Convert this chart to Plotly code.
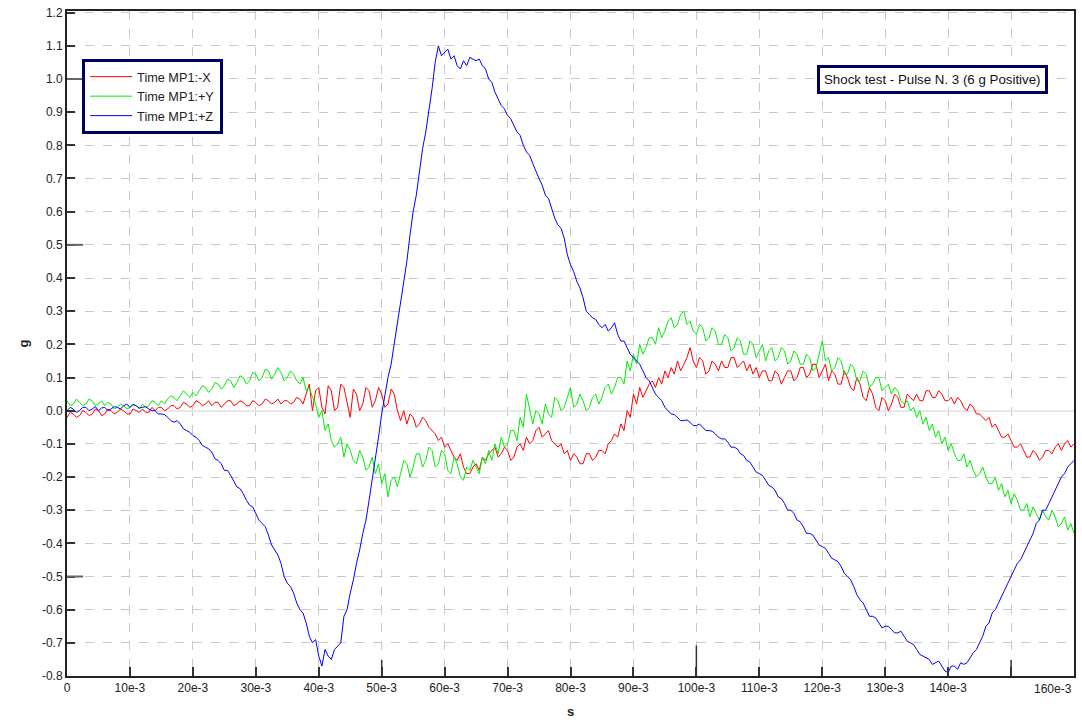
import plotly.graph_objects as go

# sample times in ms (0.5 ms step, 0 .. 160 ms)
t_ms = [i * 0.5 for i in range(321)]

red_x = [
    -0.02, -0.005, -0.01, -0.02, -0.015, 0.0, -0.005, -0.015, -0.01, 0.005,
    0.0, -0.015, -0.01, 0.005, 0.0, -0.01, -0.005, 0.005, 0.0, -0.01,
    -0.01, 0.005, 0.0, -0.005, 0.005, -0.005, -0.005, 0.01, 0.0, 0.01,
    0.01, 0.0, 0.005, 0.015, 0.015, 0.005, 0.01, 0.025, 0.02, 0.01,
    0.015, 0.03, 0.025, 0.015, 0.02, 0.03, 0.015, 0.025, 0.025, 0.01,
    0.02, 0.03, 0.03, 0.015, 0.02, 0.03, 0.025, 0.015, 0.015, 0.03,
    0.025, 0.015, 0.02, 0.035, 0.03, 0.02, 0.025, 0.035, 0.02, 0.03,
    0.03, 0.02, 0.025, 0.04, 0.035, 0.02, 0.05, 0.08, 0.0, 0.06,
    0.07, 0.01, -0.01, 0.075, 0.06, 0.0, 0.01, 0.08, 0.07, 0.02,
    -0.02, 0.065, 0.05, 0.0, 0.02, 0.07, 0.06, 0.01, 0.03, 0.07,
    0.05, 0.01, 0.02, 0.065, 0.05, 0.0, -0.03, 0.0, -0.04, -0.01,
    -0.02, -0.05, -0.04, -0.02, -0.03, -0.05, -0.06, -0.07, -0.09, -0.08,
    -0.11, -0.10, -0.12, -0.14, -0.15, -0.13, -0.17, -0.19, -0.19, -0.17,
    -0.16, -0.18, -0.14, -0.15, -0.13, -0.12, -0.11, -0.14, -0.13, -0.11,
    -0.12, -0.15, -0.14, -0.11, -0.10, -0.12, -0.08, -0.10, -0.09, -0.06,
    -0.05, -0.08, -0.07, -0.06, -0.09, -0.10, -0.11, -0.10, -0.13, -0.12,
    -0.15, -0.13, -0.14, -0.16, -0.16, -0.13, -0.13, -0.15, -0.14, -0.12,
    -0.12, -0.13, -0.10, -0.09, -0.07, -0.08, -0.04, -0.06, 0.0, -0.02,
    0.05, 0.02, 0.07, 0.04, 0.06, 0.08, 0.09, 0.07, 0.10, 0.08,
    0.12, 0.10, 0.13, 0.11, 0.15, 0.12, 0.14, 0.16, 0.19, 0.15,
    0.13, 0.16, 0.15, 0.11, 0.12, 0.15, 0.14, 0.12, 0.15, 0.13,
    0.13, 0.16, 0.16, 0.13, 0.14, 0.15, 0.12, 0.14, 0.11, 0.13,
    0.10, 0.12, 0.12, 0.09, 0.09, 0.12, 0.11, 0.08, 0.10, 0.12,
    0.12, 0.09, 0.10, 0.13, 0.13, 0.10, 0.11, 0.14, 0.14, 0.10,
    0.12, 0.14, 0.09, 0.12, 0.11, 0.08, 0.08, 0.12, 0.10, 0.07,
    0.06, 0.10, 0.08, 0.04, 0.03, 0.07, 0.05, 0.01, 0.0, 0.04,
    0.03, 0.0, 0.02, 0.05, 0.04, 0.01, 0.01, 0.05, 0.04, 0.03,
    0.05, 0.03, 0.03, 0.06, 0.06, 0.04, 0.04, 0.06, 0.05, 0.03,
    0.03, 0.04, 0.02, 0.04, 0.03, 0.01, 0.0, 0.02, 0.01, -0.01,
    -0.01, -0.02, -0.03, -0.02, -0.05, -0.04, -0.06, -0.08, -0.08, -0.07,
    -0.09, -0.11, -0.11, -0.10, -0.12, -0.14, -0.14, -0.12, -0.13, -0.15,
    -0.14, -0.12, -0.12, -0.13, -0.11, -0.10, -0.12, -0.10, -0.09, -0.11,
    -0.10]

green_y = [
    0.03, 0.015, 0.02, 0.035, 0.025, 0.015, 0.02, 0.035, 0.03, 0.015,
    0.02, 0.03, 0.015, 0.025, 0.02, 0.005, 0.01, 0.02, 0.015, 0.005,
    0.01, 0.02, 0.015, 0.005, 0.02, 0.01, 0.015, 0.03, 0.025, 0.015,
    0.03, 0.02, 0.035, 0.045, 0.04, 0.03, 0.045, 0.06, 0.05, 0.04,
    0.055, 0.045, 0.06, 0.075, 0.07, 0.055, 0.065, 0.085, 0.08, 0.065,
    0.075, 0.095, 0.09, 0.07, 0.085, 0.105, 0.10, 0.08, 0.09, 0.115,
    0.11, 0.09, 0.10, 0.125, 0.12, 0.095, 0.11, 0.13, 0.115, 0.09,
    0.10, 0.12, 0.11, 0.09, 0.08, 0.10, 0.06, 0.07, 0.04, 0.02,
    -0.02, 0.0, -0.06, -0.04, -0.09, -0.11, -0.10, -0.08, -0.14, -0.10,
    -0.12, -0.15, -0.16, -0.12, -0.14, -0.18, -0.17, -0.14, -0.19, -0.16,
    -0.22, -0.19, -0.26, -0.21, -0.20, -0.23, -0.19, -0.15, -0.16, -0.20,
    -0.17, -0.13, -0.13, -0.17, -0.15, -0.11, -0.12, -0.17, -0.16, -0.12,
    -0.13, -0.18, -0.19, -0.14, -0.16, -0.20, -0.21, -0.17, -0.18, -0.15,
    -0.17, -0.19, -0.14, -0.16, -0.12, -0.15, -0.10, -0.13, -0.08, -0.11,
    -0.10, -0.06, -0.06, -0.09, -0.02, -0.05, 0.05, 0.0, -0.04, 0.0,
    -0.01, -0.04, 0.02, -0.01, -0.02, 0.04, 0.03, 0.0, 0.01, 0.04,
    0.07, 0.01, 0.02, 0.05, 0.03, 0.0, 0.01, 0.04, 0.05, 0.02,
    0.04, 0.07, 0.08, 0.05, 0.07, 0.10, 0.10, 0.08, 0.15, 0.12,
    0.17, 0.14, 0.20, 0.17, 0.19, 0.22, 0.22, 0.20, 0.25, 0.22,
    0.24, 0.27, 0.28, 0.25, 0.26, 0.29, 0.30, 0.26, 0.27, 0.24,
    0.23, 0.26, 0.25, 0.21, 0.22, 0.25, 0.24, 0.20, 0.20, 0.23,
    0.22, 0.18, 0.19, 0.22, 0.21, 0.17, 0.17, 0.21, 0.20, 0.16,
    0.18, 0.20, 0.15, 0.18, 0.19, 0.15, 0.16, 0.19, 0.18, 0.14,
    0.15, 0.18, 0.17, 0.14, 0.14, 0.17, 0.16, 0.12, 0.13, 0.17,
    0.21, 0.15, 0.16, 0.12, 0.13, 0.16, 0.15, 0.11, 0.11, 0.14,
    0.13, 0.09, 0.09, 0.12, 0.11, 0.07, 0.08, 0.10, 0.10, 0.06,
    0.07, 0.08, 0.05, 0.07, 0.06, 0.03, 0.02, 0.03, 0.0, 0.01,
    -0.02, 0.0, -0.04, -0.02, -0.06, -0.04, -0.08, -0.06, -0.10, -0.08,
    -0.12, -0.10, -0.13, -0.15, -0.15, -0.13, -0.17, -0.15, -0.18, -0.20,
    -0.19, -0.17, -0.20, -0.22, -0.22, -0.20, -0.24, -0.22, -0.26, -0.24,
    -0.28, -0.25, -0.27, -0.30, -0.30, -0.28, -0.32, -0.29, -0.31, -0.33,
    -0.30, -0.32, -0.33, -0.30, -0.32, -0.35, -0.34, -0.32, -0.36, -0.34,
    -0.37]

blue_z = [
    0.0, 0.01, 0.005, -0.005, 0.0, 0.01, 0.01, 0.0, 0.005, 0.012,
    0.0, 0.008, 0.01, 0.0, 0.005, 0.012, 0.01, 0.005, 0.015, 0.02,
    0.01, 0.018, 0.015, 0.008, 0.01, 0.012, 0.005, 0.0, 0.0, -0.01,
    -0.01, -0.012, -0.02, -0.03, -0.035, -0.03, -0.04, -0.055, -0.06, -0.065,
    -0.075, -0.08, -0.09, -0.105, -0.11, -0.115, -0.125, -0.145, -0.15, -0.16,
    -0.18, -0.18, -0.195, -0.215, -0.23, -0.235, -0.25, -0.27, -0.285, -0.29,
    -0.31, -0.33, -0.34, -0.35, -0.375, -0.405, -0.42, -0.435, -0.46, -0.50,
    -0.52, -0.53, -0.55, -0.58, -0.60, -0.61, -0.64, -0.68, -0.70, -0.69,
    -0.74, -0.77, -0.72, -0.74, -0.75, -0.72, -0.71, -0.70, -0.62, -0.60,
    -0.55, -0.51, -0.46, -0.42, -0.37, -0.33, -0.27, -0.21, -0.14, -0.08,
    -0.01, 0.05, 0.10, 0.14, 0.20, 0.27, 0.33, 0.38, 0.45, 0.53,
    0.60, 0.65, 0.72, 0.79, 0.84, 0.90, 0.97, 1.05, 1.10, 1.07,
    1.08, 1.09, 1.06, 1.07, 1.04, 1.03, 1.055, 1.04, 1.065, 1.06,
    1.055, 1.06, 1.04, 1.03, 1.00, 0.99, 0.96, 0.94, 0.92, 0.91,
    0.89, 0.88, 0.86, 0.84, 0.83, 0.80, 0.78, 0.77, 0.745, 0.72,
    0.70, 0.68, 0.65, 0.64, 0.61, 0.58, 0.56, 0.55, 0.52, 0.47,
    0.44, 0.42, 0.39, 0.37, 0.34, 0.30, 0.29, 0.28, 0.275, 0.26,
    0.25, 0.26, 0.24, 0.25, 0.265, 0.23, 0.21, 0.21, 0.19, 0.17,
    0.16, 0.15, 0.14, 0.12, 0.10, 0.09, 0.07, 0.05, 0.04, 0.03,
    0.01, 0.0, -0.01, -0.012, -0.02, -0.03, -0.03, -0.028, -0.035, -0.045,
    -0.045, -0.04, -0.05, -0.06, -0.06, -0.062, -0.07, -0.08, -0.085, -0.085,
    -0.095, -0.11, -0.11, -0.115, -0.13, -0.135, -0.15, -0.155, -0.17, -0.185,
    -0.19, -0.195, -0.21, -0.225, -0.23, -0.24, -0.26, -0.265, -0.28, -0.30,
    -0.30, -0.31, -0.33, -0.335, -0.35, -0.37, -0.37, -0.375, -0.39, -0.405,
    -0.41, -0.415, -0.43, -0.445, -0.45, -0.455, -0.47, -0.49, -0.50, -0.51,
    -0.53, -0.555, -0.57, -0.58, -0.60, -0.62, -0.62, -0.625, -0.64, -0.655,
    -0.65, -0.65, -0.66, -0.67, -0.67, -0.665, -0.68, -0.695, -0.70, -0.705,
    -0.72, -0.735, -0.74, -0.745, -0.75, -0.765, -0.76, -0.755, -0.77, -0.785,
    -0.79, -0.77, -0.77, -0.78, -0.76, -0.765, -0.76, -0.745, -0.73, -0.72,
    -0.70, -0.68, -0.65, -0.64, -0.61, -0.60, -0.58, -0.56, -0.54, -0.52,
    -0.50, -0.48, -0.46, -0.45, -0.43, -0.41, -0.39, -0.37, -0.34, -0.33,
    -0.30, -0.30, -0.28, -0.26, -0.24, -0.22, -0.20, -0.19, -0.17, -0.16,
    -0.15]

series_names = ["Time MP1:-X", "Time MP1:+Y", "Time MP1:+Z"]
series_colors = ["#ff0000", "#00ee00", "#0000ff"]

x_tick_ms = list(range(0, 151, 10))
x_tick_text = ["0"] + [f"{v}e-3" for v in range(10, 141, 10)] + [""]
y_tick_vals = [round(-0.8 + 0.1 * i, 1) for i in range(21)]
y_tick_text = [f"{v:.1f}" for v in y_tick_vals]

t_s = [v / 1000 for v in t_ms]

fig = go.Figure()
for name, col, vals in zip(series_names, series_colors, [red_x, green_y, blue_z]):
    fig.add_trace(go.Scatter(x=t_s, y=vals, mode="lines", name=name,
                             line=dict(color=col, width=1)))

font_family = "Liberation Sans, Arial, sans-serif"

fig.update_layout(
    width=1082, height=723,
    margin=dict(l=67, r=6, t=6, b=40),
    paper_bgcolor="white", plot_bgcolor="white",
    font=dict(family=font_family, size=12, color="#222"),
    showlegend=True,
    legend=dict(x=0.015, y=0.928, xanchor="left", yanchor="top",
                bordercolor="#000060", borderwidth=3, bgcolor="white",
                font=dict(size=12.7, color="#222"), itemwidth=42,
                tracegroupgap=0),
    xaxis=dict(range=[0, 0.16], tickvals=[v / 1000 for v in x_tick_ms],
               ticktext=x_tick_text, ticks="inside", ticklen=9,
               tickcolor="#333", tickwidth=1.5,
               showline=True, mirror=True, linecolor="#222", linewidth=2,
               showgrid=True, gridcolor="#c8c8c8", griddash="dash", gridwidth=1,
               zeroline=False,
               title=dict(text="<b>s</b>", font=dict(size=13, color="#222"), standoff=12)),
    yaxis=dict(range=[-0.8, 1.205], tickvals=y_tick_vals, ticktext=y_tick_text,
               ticks="inside", ticklen=8, tickcolor="#333", tickwidth=1.5,
               showline=True, mirror=True, linecolor="#222", linewidth=2,
               showgrid=True, gridcolor="#c8c8c8", griddash="dash", gridwidth=1,
               zeroline=True, zerolinecolor="#e8e8e8", zerolinewidth=2,
               title=dict(text="<b>g</b>", font=dict(size=13, color="#222"), standoff=10)),
)

# longer tick marks
for v in [-0.5, 0.5, 1.0]:
    fig.add_shape(type="line", xref="paper", yref="y", x0=0, x1=0.016, y0=v, y1=v,
                  line=dict(color="#666", width=2))
for v, ln in [(0.05, 0.024), (0.10, 0.046), (0.15, 0.024)]:
    fig.add_shape(type="line", xref="x", yref="paper", x0=v, x1=v, y0=0, y1=ln,
                  line=dict(color="#333", width=1.5))

fig.add_annotation(x=0.16, y=0, xref="x", yref="paper", text="160e-3",
                   showarrow=False, xanchor="right", yanchor="top", yshift=-4,
                   font=dict(size=12, color="#222"))

fig.add_annotation(x=0.8595, y=0.8966, xref="paper", yref="paper",
                   xanchor="center", yanchor="middle",
                   text="Shock test - Pulse N. 3 (6 g Positive)", showarrow=False,
                   bordercolor="#000060", borderwidth=3, borderpad=4, bgcolor="white",
                   font=dict(size=13.3, color="#111"))

fig.write_html("out.html", config={"displayModeBar": False},
               post_script="document.body.style.margin='0px';")
